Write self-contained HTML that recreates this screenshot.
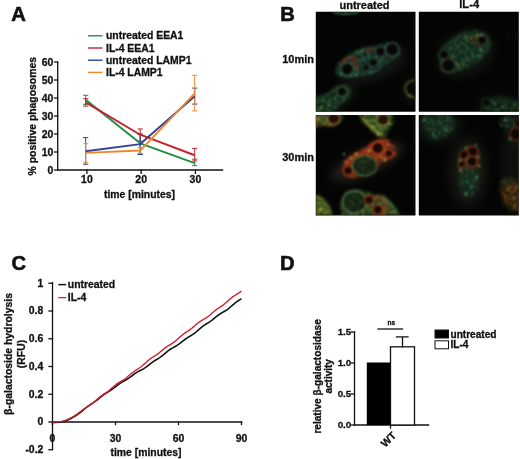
<!DOCTYPE html>
<html><head><meta charset="utf-8"><title>Figure</title>
<style>
html,body{margin:0;padding:0;background:#fff;}
body{width:520px;height:459px;overflow:hidden;}
svg{display:block;}
text{font-family:"Liberation Sans",Arial,sans-serif;font-weight:bold;fill:#111;stroke:#111;stroke-width:0.3px;}
.ax{stroke:#111;stroke-width:1.3;fill:none;stroke-linecap:square;}
.pl{font-size:20.2px;stroke-width:0.6px;}
.t10{font-size:10.4px;}
.t9{font-size:10.4px;}
.td{font-size:9.8px;}
</style></head><body>
<svg width="520" height="459" viewBox="0 0 520 459">
<rect width="520" height="459" fill="#fff"/>

<g id="panelA">
<text class="pl" x="11.2" y="21.2">A</text>
<path class="ax" d="M57.7 62.5V170H222.5"/>
<path class="ax" d="M54.5 170H57.7"/>
<text class="t10" x="53.2" y="173.6" text-anchor="end">0</text>
<path class="ax" d="M54.5 152H57.7"/>
<text class="t10" x="53.2" y="155.6" text-anchor="end">10</text>
<path class="ax" d="M54.5 134H57.7"/>
<text class="t10" x="53.2" y="137.6" text-anchor="end">20</text>
<path class="ax" d="M54.5 116H57.7"/>
<text class="t10" x="53.2" y="119.6" text-anchor="end">30</text>
<path class="ax" d="M54.5 98H57.7"/>
<text class="t10" x="53.2" y="101.6" text-anchor="end">40</text>
<path class="ax" d="M54.5 80H57.7"/>
<text class="t10" x="53.2" y="83.6" text-anchor="end">50</text>
<path class="ax" d="M54.5 62H57.7"/>
<text class="t10" x="53.2" y="65.6" text-anchor="end">60</text>
<path class="ax" d="M86.9 170V173.3"/>
<text class="t10" x="86.9" y="183" text-anchor="middle">10</text>
<path class="ax" d="M141.15 170V173.3"/>
<text class="t10" x="141.15" y="183" text-anchor="middle">20</text>
<path class="ax" d="M195.4 170V173.3"/>
<text class="t10" x="195.4" y="183" text-anchor="middle">30</text>
<text class="t10" x="139.5" y="197.8" text-anchor="middle">time [minutes]</text>
<text class="t10" transform="translate(36.2 116.2) rotate(-90)" text-anchor="middle">% positive phagosomes</text>
<path d="M85.7 95.3V104.3M83.1 95.3H88.3M83.1 104.3H88.3M140.2 134V153.8M137.6 134H142.8M137.6 153.8H142.8M194.7 159.2V165.68M192.1 159.2H197.3M192.1 165.68H197.3" stroke="#1f8f45" stroke-width="1" fill="none"/>
<path d="M85.7 98.72V106.1M83.1 98.72H88.3M83.1 106.1H88.3M140.2 128.96V141.2M137.6 128.96H142.8M137.6 141.2H142.8M194.7 148.4V161M192.1 148.4H197.3M192.1 161H197.3" stroke="#c8202f" stroke-width="1" fill="none"/>
<path d="M85.7 137.6V164.24M83.1 137.6H88.3M83.1 164.24H88.3M140.2 134.36V154.52M137.6 134.36H142.8M137.6 154.52H142.8M194.7 88.1V104.12M192.1 88.1H197.3M192.1 104.12H197.3" stroke="#34419a" stroke-width="1" fill="none"/>
<path d="M85.7 143.72V162.26M83.1 143.72H88.3M83.1 162.26H88.3M140.2 147.68V153.44M137.6 147.68H142.8M137.6 153.44H142.8M194.7 75.32V110.96M192.1 75.32H197.3M192.1 110.96H197.3" stroke="#f0872a" stroke-width="1" fill="none"/>
<polyline points="85.7,99.8 140.2,143.36 194.7,163.16" stroke="#1f8f45" stroke-width="1.9" fill="none" stroke-linejoin="round"/>
<polyline points="85.7,102.32 140.2,134.72 194.7,155.24" stroke="#c8202f" stroke-width="1.9" fill="none" stroke-linejoin="round"/>
<polyline points="85.7,151.28 140.2,144.08 194.7,96.2" stroke="#34419a" stroke-width="1.9" fill="none" stroke-linejoin="round"/>
<polyline points="85.7,152.9 140.2,150.56 194.7,93.32" stroke="#f0872a" stroke-width="1.9" fill="none" stroke-linejoin="round"/>
<path d="M88 35.8H102.5" stroke="#1f8f45" stroke-width="1.4"/>
<text class="t10" x="106" y="39.4">untreated EEA1</text>
<path d="M88 48H102.5" stroke="#c8202f" stroke-width="1.4"/>
<text class="t10" x="106" y="51.6">IL-4 EEA1</text>
<path d="M88 60.2H102.5" stroke="#34419a" stroke-width="1.4"/>
<text class="t10" x="106" y="63.8">untreated LAMP1</text>
<path d="M88 72.4H102.5" stroke="#f0872a" stroke-width="1.4"/>
<text class="t10" x="106" y="76">IL-4 LAMP1</text>
</g>
<g id="panelC">
<text class="pl" x="11.6" y="269.6">C</text>
<path class="ax" d="M52.5 282.5V449.5"/>
<path class="ax" d="M52.5 422H241.7"/>
<path class="ax" d="M49 283.25H52.5"/>
<text class="t9" x="43.3" y="286.65" text-anchor="end">1</text>
<path class="ax" d="M49 311H52.5"/>
<text class="t9" x="43.3" y="314.4" text-anchor="end">0.8</text>
<path class="ax" d="M49 338.75H52.5"/>
<text class="t9" x="43.3" y="342.15" text-anchor="end">0.6</text>
<path class="ax" d="M49 366.5H52.5"/>
<text class="t9" x="43.3" y="369.9" text-anchor="end">0.4</text>
<path class="ax" d="M49 394.25H52.5"/>
<text class="t9" x="43.3" y="397.65" text-anchor="end">0.2</text>
<path class="ax" d="M49 422H52.5"/>
<text class="t9" x="43.3" y="425.4" text-anchor="end">0</text>
<path class="ax" d="M49 449.75H52.5"/>
<text class="t9" x="43.3" y="453.15" text-anchor="end">-0.2</text>
<path class="ax" d="M52.5 422V424.5"/>
<text class="t9" x="52.5" y="441.5" text-anchor="middle">0</text>
<path class="ax" d="M115.5 422V424.5"/>
<text class="t9" x="115.5" y="441.5" text-anchor="middle">30</text>
<path class="ax" d="M178.5 422V424.5"/>
<text class="t9" x="178.5" y="441.5" text-anchor="middle">60</text>
<path class="ax" d="M241.5 422V424.5"/>
<text class="t9" x="241.5" y="441.5" text-anchor="middle">90</text>
<text class="t9" x="146" y="455.5" text-anchor="middle">time [minutes]</text>
<text class="t9" transform="translate(11.6 354) rotate(-90)" text-anchor="middle">β-galactoside hydrolysis</text>
<text class="t9" transform="translate(24.5 354) rotate(-90)" text-anchor="middle">(RFU)</text>
<polyline points="52.5,422.5 53.55,422.46 54.6,422.41 55.65,422.36 56.7,422.31 57.75,422.24 58.8,422.17 59.85,422.08 60.9,421.96 61.95,421.81 63,421.62 64.05,421.37 65.1,421.07 66.15,420.71 67.2,420.29 68.25,419.82 69.3,419.31 70.35,418.76 71.4,418.2 72.45,417.61 73.5,417 74.55,416.38 75.6,415.74 76.65,415.07 77.7,414.37 78.75,413.63 79.8,412.85 80.85,412.03 81.9,411.18 82.95,410.31 84,409.44 85.05,408.56 86.1,407.71 87.15,406.9 88.2,406.12 89.25,405.38 90.3,404.67 91.35,403.98 92.4,403.3 93.45,402.61 94.5,401.9 95.55,401.15 96.6,400.36 97.65,399.52 98.7,398.66 99.75,397.79 100.8,396.92 101.85,396.07 102.9,395.26 103.95,394.49 105,393.78 106.05,393.12 107.1,392.48 108.15,391.84 109.2,391.19 110.25,390.49 111.3,389.75 112.35,389.08 113.4,388.35 114.45,387.57 115.5,386.76 116.55,385.93 117.6,385.11 118.65,384.32 119.7,383.57 120.75,382.88 121.8,382.23 122.85,381.63 123.9,381.06 124.95,380.49 126,379.91 127.05,379.3 128.1,378.64 129.15,377.93 130.2,377.17 131.25,376.37 132.3,375.56 133.35,374.76 134.4,373.97 135.45,373.23 136.5,372.55 137.55,371.92 138.6,371.34 139.65,370.8 140.7,370.28 141.75,369.75 142.8,369.19 143.85,368.59 144.9,367.93 145.95,367.21 147,366.44 148.05,365.62 149.1,364.77 150.15,363.93 151.2,363.1 152.25,362.31 153.3,361.56 154.35,360.86 155.4,360.2 156.45,359.57 157.5,358.95 158.55,358.32 159.6,357.65 160.65,356.94 161.7,356.17 162.75,355.35 163.8,354.49 164.85,353.6 165.9,352.7 166.95,351.82 168,350.98 169.05,350.19 170.1,349.46 171.15,348.79 172.2,348.17 173.25,347.58 174.3,347 175.35,346.42 176.4,345.8 177.45,345.13 178.5,344.42 179.55,343.65 180.6,342.83 181.65,341.99 182.7,341.15 183.75,340.32 184.8,339.52 185.85,338.76 186.9,338.06 187.95,337.4 189,336.77 190.05,336.16 191.1,335.53 192.15,334.89 193.2,334.19 194.25,333.44 195.3,332.62 196.35,331.75 197.4,330.84 198.45,329.91 199.5,328.98 200.55,328.07 201.6,327.2 202.65,326.39 203.7,325.63 204.75,324.93 205.8,324.26 206.85,323.62 207.9,322.98 208.95,322.31 210,321.61 211.05,320.86 212.1,320.07 213.15,319.23 214.2,318.36 215.25,317.49 216.3,316.63 217.35,315.8 218.4,315.02 219.45,314.29 220.5,313.62 221.55,313 222.6,312.4 223.65,311.8 224.7,311.19 225.75,310.55 226.8,309.85 227.85,309.09 228.9,308.26 229.95,307.39 231,306.48 232.05,305.56 233.1,304.65 234.15,303.77 235.2,302.93 236.25,302.14 237.3,301.4 238.35,300.7 239.4,300.02 240.45,299.34 241.5,298.65" stroke="#111" stroke-width="1.6" fill="none" stroke-linejoin="round"/>
<polyline points="52.5,422 53.55,421.97 54.6,421.94 55.65,421.91 56.7,421.87 57.75,421.81 58.8,421.73 59.85,421.61 60.9,421.46 61.95,421.27 63,421.03 64.05,420.74 65.1,420.41 66.15,420.03 67.2,419.62 68.25,419.17 69.3,418.69 70.35,418.18 71.4,417.65 72.45,417.08 73.5,416.48 74.55,415.84 75.6,415.16 76.65,414.44 77.7,413.69 78.75,412.9 79.8,412.09 80.85,411.28 81.9,410.47 82.95,409.69 84,408.93 85.05,408.2 86.1,407.5 87.15,406.83 88.2,406.16 89.25,405.49 90.3,404.8 91.35,404.07 92.4,403.3 93.45,402.48 94.5,401.62 95.55,400.72 96.6,399.81 97.65,398.89 98.7,398 99.75,397.14 100.8,396.32 101.85,395.55 102.9,394.82 103.95,394.12 105,393.43 106.05,392.72 107.1,391.98 108.15,391.2 109.2,390.37 110.25,389.48 111.3,388.57 112.35,387.64 113.4,386.71 114.45,385.81 115.5,384.95 116.55,384.15 117.6,383.41 118.65,382.73 119.7,382.09 120.75,381.48 121.8,380.86 122.85,380.23 123.9,379.55 124.95,378.82 126,378.04 127.05,377.2 128.1,376.32 129.15,375.42 130.2,374.52 131.25,373.64 132.3,372.8 133.35,372 134.4,371.25 135.45,370.54 136.5,369.86 137.55,369.18 138.6,368.5 139.65,367.78 140.7,367.01 141.75,366.19 142.8,365.31 143.85,364.38 144.9,363.42 145.95,362.46 147,361.5 148.05,360.59 149.1,359.72 150.15,358.91 151.2,358.17 152.25,357.47 153.3,356.81 154.35,356.17 155.4,355.51 156.45,354.83 157.5,354.11 158.55,353.34 159.6,352.52 160.65,351.66 161.7,350.77 162.75,349.89 163.8,349.02 164.85,348.18 165.9,347.4 166.95,346.67 168,345.98 169.05,345.33 170.1,344.7 171.15,344.07 172.2,343.41 173.25,342.7 174.3,341.93 175.35,341.1 176.4,340.22 177.45,339.29 178.5,338.34 179.55,337.38 180.6,336.44 181.65,335.54 182.7,334.69 183.75,333.9 184.8,333.16 185.85,332.45 186.9,331.76 187.95,331.08 189,330.37 190.05,329.62 191.1,328.83 192.15,327.98 193.2,327.1 194.25,326.19 195.3,325.27 196.35,324.37 197.4,323.5 198.45,322.68 199.5,321.93 200.55,321.22 201.6,320.57 202.65,319.95 203.7,319.34 204.75,318.72 205.8,318.07 206.85,317.37 207.9,316.61 208.95,315.79 210,314.92 211.05,314.01 212.1,313.09 213.15,312.19 214.2,311.3 215.25,310.46 216.3,309.67 217.35,308.93 218.4,308.22 219.45,307.53 220.5,306.84 221.55,306.14 222.6,305.39 223.65,304.59 224.7,303.74 225.75,302.84 226.8,301.9 227.85,300.95 228.9,299.99 229.95,299.07 231,298.18 232.05,297.36 233.1,296.6 234.15,295.89 235.2,295.23 236.25,294.59 237.3,293.96 238.35,293.31 239.4,292.63 240.45,291.89 241.5,291.1" stroke="#d0212c" stroke-width="1.4" fill="none" stroke-linejoin="round"/>
<path d="M58.3 284.6H66.2" stroke="#111" stroke-width="1.5"/>
<text class="t9" x="67.8" y="288.2">untreated</text>
<path d="M58.3 297.6H66.2" stroke="#d0212c" stroke-width="1.3"/>
<text class="t9" x="67.8" y="301.2">IL-4</text>
</g>
<g id="panelD">
<text class="pl" x="280" y="269.5">D</text>
<path class="ax" d="M354.5 332V425H428.5"/>
<path class="ax" d="M351.5 332H354.5"/>
<text class="td" x="351.3" y="335.3" text-anchor="end">1.5</text>
<path class="ax" d="M351.5 363H354.5"/>
<text class="td" x="351.3" y="366.3" text-anchor="end">1.0</text>
<path class="ax" d="M351.5 394H354.5"/>
<text class="td" x="351.3" y="397.3" text-anchor="end">0.5</text>
<path class="ax" d="M351.5 425H354.5"/>
<text class="td" x="351.3" y="428.3" text-anchor="end">0.0</text>
<path class="ax" d="M390.5 425V428"/>
<rect x="366.8" y="362.5" width="23.7" height="62.5" fill="#000"/>
<rect x="390.5" y="346.8" width="24" height="78.2" fill="#fff" stroke="#111" stroke-width="1.3"/>
<path class="ax" d="M402.5 346.8V336.8M396.5 336.8H408"/>
<path class="ax" d="M378 329H402.5"/>
<text x="391.3" y="325" text-anchor="middle" style="font-size:6.5px">ns</text>
<text class="td" transform="translate(391 442) rotate(-45)" text-anchor="middle" style="font-size:10.5px">WT</text>
<text class="td" style="font-size:10.1px" transform="translate(321.2 376.4) rotate(-90)" text-anchor="middle">relative β-galactosidase</text>
<text class="td" style="font-size:10px" transform="translate(332.2 376.3) rotate(-90)" text-anchor="middle">activity</text>
<rect x="435" y="330" width="13.5" height="8" fill="#000" stroke="#111" stroke-width="1"/>
<rect x="435" y="340.8" width="13.5" height="8" fill="#fff" stroke="#111" stroke-width="1"/>
<text class="td" x="450.5" y="337.6" style="font-size:10.1px">untreated</text>
<text class="td" x="450.5" y="348.4" style="font-size:10.1px">IL-4</text>
</g>
<g id="panelB">
<defs>
<filter id="b05" x="-30%" y="-30%" width="160%" height="160%"><feGaussianBlur stdDeviation="0.55"/></filter>
<filter id="b1" x="-30%" y="-30%" width="160%" height="160%"><feGaussianBlur stdDeviation="1.1"/></filter>
<filter id="b2" x="-40%" y="-40%" width="180%" height="180%"><feGaussianBlur stdDeviation="2"/></filter>
<filter id="b4" x="-50%" y="-50%" width="200%" height="200%"><feGaussianBlur stdDeviation="4.5"/></filter>
<filter id="spk" x="-10%" y="-10%" width="120%" height="120%">
<feTurbulence type="fractalNoise" baseFrequency="0.36" numOctaves="2" seed="7" result="n"/>
<feColorMatrix in="n" type="matrix" values="0 0 0 0 0  0 0 0 0 0  0 0 0 0 0  3.6 0 0 0 -1.7" result="a"/>
<feGaussianBlur in="SourceGraphic" stdDeviation="1.1" result="s"/>
<feComposite in="s" in2="a" operator="in"/>
</filter>
<filter id="fin" x="-5%" y="-5%" width="110%" height="110%" color-interpolation-filters="sRGB">
<feGaussianBlur stdDeviation="0.8"/>
<feColorMatrix type="matrix" values="0.55 0 0 0 0  0 0.52 0 0 0  0 0 0.5 0 0  0 0 0 1 0"/>
</filter>
<filter id="fin3" x="-5%" y="-5%" width="110%" height="110%" color-interpolation-filters="sRGB">
<feGaussianBlur stdDeviation="0.8"/>
<feColorMatrix type="matrix" values="0.74 0 0 0 0  0 0.66 0 0 0  0 0 0.6 0 0  0 0 0 1 0"/>
</filter>
<clipPath id="c1"><rect x="0.8" y="-0.2" width="99.7" height="99.9"/></clipPath>
<clipPath id="c2"><rect x="-0.2" y="-0.2" width="100" height="99.9"/></clipPath>
<clipPath id="c3"><rect x="0.8" y="1.1" width="99.7" height="100.3"/></clipPath>
<clipPath id="c4"><rect x="-0.2" y="1.1" width="100" height="100.3"/></clipPath>
<path id="m1" d="M21.8 60L24 52.3L32.7 44.7L41.4 39.2L52.3 36L63.2 34.9L71.9 32.2L79.5 31.6L83.9 36L83.9 41.4L76.3 46.8L69.7 51.2L63.2 57.7L52.3 62L41.4 63.2L32.7 64.3L25 63.2Z"/>
<path id="m1b" d="M0 87L13 82.8L22.9 75.2L30.5 74L34.9 78.4L32.7 85L24 91.5L17.4 100H0Z"/>
<path id="m2" d="M20.7 43.6L24 36L32.7 28.3L43.6 21.8L56.6 19.6L67.5 22.9L70.8 30.5L66.4 41.4L58.8 49L47.9 54.5L39.2 57.7L30.5 61L22.9 57.7L21.8 50Z"/>
<path id="m2b" d="M62 100L64 90L72 85.5L84 85L96 88L101.3 92V100Z"/>
<path id="m3a" d="M0 0H27.5L25.3 6.6L17.6 11L6.6 10L0 13.2Z"/>
<path id="m3b" d="M45.2 0H77V8.8L72.7 15.4L68.3 23L62.8 21L55 13.2L47.4 5.5Z"/>
<path id="m3c" d="M29.7 60.6L28.6 52.9L33 44L44 38.5L55 32L63.9 27.5L72.7 26.4L79.3 33L80.4 39.6L72.7 45.2L63.9 47.4L60.6 55L52.9 60.6L41.9 61.7L33 61.7Z"/>
<path id="m3d" d="M27.5 101L26.4 88L30.8 79.3L39.6 76L50.7 78.2L59.5 82.6L66 81.5L72.7 88L79.3 94.7L83.7 101Z"/>
<path id="m3e" d="M0 81.5L6.6 84.8L13.2 92.5L16.5 101H0Z"/>
<path id="m4a" d="M4.4 0H33L36.3 8.8L33 17.6L24.2 23L15.4 26.4L8.8 19.8L3.3 11Z"/>
<path id="m4c" d="M41.9 35.2L50.7 30.8L59.5 35.2L62.8 48.5L61.7 63.9L57.3 77L49.6 84.8L43 79.3L38.5 66L38.5 50.7Z"/>
<path id="m4d" d="M83.7 0H101.3V31L94 30L88 22L85 10Z"/>
<path id="m4e" d="M81.5 70L88 64L96 66L101.3 72V97L92 96L84 88Z"/>
</defs>
<text class="pl" x="280.3" y="20.9">B</text>
<text class="t10" x="364.5" y="8.6" text-anchor="middle" style="font-size:11px">untreated</text>
<text class="t10" x="469.2" y="8.4" text-anchor="middle" style="font-size:11.2px">IL-4</text>
<text class="t10" x="314" y="62.5" text-anchor="end" style="font-size:11px">10min</text>
<text class="t10" x="314" y="161" text-anchor="end" style="font-size:11px">30min</text>

<!-- image 1 : untreated 10min -->
<g transform="translate(315 12)" clip-path="url(#c1)">
<rect x="-2" y="-2" width="106" height="106" fill="#030403"/>
<g filter="url(#fin)">
<g filter="url(#b4)" opacity="0.4">
<ellipse cx="58" cy="54" rx="36" ry="15" transform="rotate(-18 58 54)" fill="#4a5450"/>
<ellipse cx="22" cy="88" rx="22" ry="10" transform="rotate(-38 22 88)" fill="#4a5450"/>
<ellipse cx="98" cy="78" rx="9" ry="12" fill="#4a5450"/>
</g>
<g filter="url(#b2)" opacity="0.6">
<use href="#m1" fill="#27584a"/>
<use href="#m1b" fill="#27583c"/>
</g>
<g filter="url(#spk)">
<use href="#m1" fill="#5fd8a0" stroke="#5fd8a0" stroke-width="2"/>
<use href="#m1b" fill="#62d880" stroke="#62d880" stroke-width="2"/>
<ellipse cx="32" cy="0" rx="12" ry="3" fill="#4fc07c"/>
</g>
<g filter="url(#b1)" fill="none" stroke-linejoin="round">
<use href="#m1" stroke="#3f9a72" stroke-width="1.4" opacity="0.8"/>
<use href="#m1b" stroke="#45a060" stroke-width="1.4" opacity="0.8"/>
<path d="M26 52Q30 46 39 45.5Q42 51 40.5 57" stroke="#d05a2a" stroke-width="2.6"/>
<path d="M51 38.5Q55 36 59 38.5" stroke="#c0502c" stroke-width="2.2"/>
</g>
<g filter="url(#b05)">
<circle cx="32.2" cy="57" r="6.3" fill="#0a0c0a" stroke="#55a884" stroke-width="1.5"/>
<circle cx="65.4" cy="39.7" r="5" fill="#0d0e0c" stroke="#5a9484" stroke-width="1.3"/>
<circle cx="77.3" cy="37.5" r="6.6" fill="#080a09" stroke="#6a8e88" stroke-width="1.3"/>
<circle cx="58.4" cy="50.5" r="4" fill="#0b100d" stroke="#468c70" stroke-width="1.1"/>
<circle cx="51" cy="55.5" r="3.4" fill="#0b100d" stroke="#468c70" stroke-width="1"/>
<circle cx="27" cy="79.5" r="5" fill="#0a0c0a" stroke="#55a874" stroke-width="1.4"/>
<path d="M99.8 68Q89 70 90.5 78Q92 86 99.8 85" fill="#0b0d0a" stroke="#9aa850" stroke-width="1.6"/>
<path d="M18 0Q30 4 44 0" fill="none" stroke="#55b87c" stroke-width="1.6"/>
<circle cx="47" cy="39" r="1.6" fill="#7af0a0"/>
<circle cx="43" cy="41.5" r="1.2" fill="#70e898"/>
<circle cx="41" cy="62.5" r="1.5" fill="#7af0a0"/>
<circle cx="26" cy="62" r="1.3" fill="#68dc90"/>
<circle cx="36" cy="64" r="1.2" fill="#68dc90"/>
<circle cx="56" cy="60.5" r="1.2" fill="#68dc90"/>
<circle cx="14" cy="93" r="1.5" fill="#7af0a0"/>
<circle cx="8" cy="88" r="1.3" fill="#68dc90"/>
<circle cx="20" cy="86" r="1.2" fill="#68dc90"/>
<circle cx="5" cy="96" r="1.3" fill="#a0e070"/>
<circle cx="95" cy="83" r="1.2" fill="#c8d858"/>
</g>
</g>
</g>

<!-- image 2 : IL-4 10min -->
<g transform="translate(419 12)" clip-path="url(#c2)">
<rect x="-2" y="-2" width="106" height="106" fill="#030403"/>
<g filter="url(#fin)">
<g filter="url(#b4)" opacity="0.4">
<ellipse cx="47" cy="42" rx="30" ry="23" transform="rotate(-25 47 42)" fill="#3f4a43"/>
<ellipse cx="82" cy="95" rx="24" ry="12" fill="#3f4a43"/>
</g>
<g filter="url(#b2)" opacity="0.7">
<use href="#m2" fill="#23543a"/>
<use href="#m2b" fill="#1a4028"/>
</g>
<g filter="url(#spk)">
<use href="#m2" fill="#5cd07c" stroke="#5cd07c" stroke-width="2"/>
<use href="#m2b" fill="#4cb468"/>
</g>
<g filter="url(#b1)" fill="none" stroke-linejoin="round">
<use href="#m2" stroke="#3c8a58" stroke-width="1.3" opacity="0.7"/>
<path d="M50 27Q55 31 60 33" stroke="#8a4a2a" stroke-width="2"/>
</g>
<g filter="url(#b05)">
<circle cx="25" cy="42.5" r="4.6" fill="#080a08" stroke="#6a7a52" stroke-width="1.2"/>
<circle cx="29.4" cy="53.4" r="6.6" fill="#070907" stroke="#6a6a4e" stroke-width="1.3"/>
<circle cx="63.2" cy="28.3" r="4.6" fill="#080a08" stroke="#7a7a52" stroke-width="1.2"/>
<circle cx="67.5" cy="90.4" r="4" fill="#080a08" stroke="#3a6a46" stroke-width="1"/>
<circle cx="93.7" cy="24" r="5" fill="none" stroke="#1c2a20" stroke-width="1.2"/>
<circle cx="52" cy="26" r="1.4" fill="#e0a840"/>
<circle cx="57.7" cy="24" r="1.4" fill="#e8b048"/>
<circle cx="62" cy="38" r="1.6" fill="#7af0a0"/>
<circle cx="47" cy="25" r="1.5" fill="#7af0a0"/>
<circle cx="39" cy="53" r="1.4" fill="#7af0a0"/>
<circle cx="59" cy="44" r="1.2" fill="#68dc90"/>
<circle cx="33" cy="44" r="1.2" fill="#68dc90"/>
<circle cx="44" cy="52" r="1.2" fill="#c8c050"/>
<circle cx="63" cy="23" r="1.2" fill="#e0f0e0"/>
<circle cx="84" cy="95" r="1.2" fill="#68dc90"/>
<circle cx="76" cy="92" r="1.1" fill="#68dc90"/>
</g>
</g>
</g>

<!-- image 3 : untreated 30min -->
<g transform="translate(315 114)" clip-path="url(#c3)">
<rect x="-2" y="-2" width="106" height="106" fill="#030403"/>
<g filter="url(#fin3)">
<g filter="url(#b4)" opacity="0.45">
<ellipse cx="52" cy="48" rx="40" ry="13" transform="rotate(-24 52 48)" fill="#5a5650"/>
</g>
<g filter="url(#b2)" opacity="0.9">
<use href="#m3a" fill="#4a7a38"/>
<use href="#m3b" fill="#426e38"/>
<use href="#m3c" fill="#8a3c20"/>
<use href="#m3d" fill="#3e5e34"/>
<use href="#m3e" fill="#568a3a"/>
</g>
<g filter="url(#spk)">
<use href="#m3a" fill="#b0e060" stroke="#b0e060" stroke-width="2"/>
<use href="#m3b" fill="#98e068" stroke="#98e068" stroke-width="2"/>
<use href="#m3c" fill="#f08030" stroke="#f08030" stroke-width="2"/>
<use href="#m3d" fill="#90c860" stroke="#90c860" stroke-width="2"/>
<use href="#m3e" fill="#c0e058"/>
</g>
<g filter="url(#b1)" fill="none" stroke-linejoin="round">
<path d="M30 52Q35 43 46 39.5Q54 35 58 29.5Q66 25 73 28" stroke="#e84c2a" stroke-width="3"/>
<path d="M56 40Q62 44 69 42Q76 46 80 39" stroke="#d84828" stroke-width="2.2"/>
<path d="M30 58Q34 64 42 62" stroke="#d05028" stroke-width="2"/>
<path d="M47 4Q56 14 67 22" stroke="#c8e858" stroke-width="2.2"/>
<path d="M6 10L18 11L25 6.5" stroke="#d8a040" stroke-width="1.6"/>
<path d="M0 3V12" stroke="#d83a2a" stroke-width="3"/>
<path d="M56 84Q64 80 70 88Q74 96 66 101" stroke="#c0682a" stroke-width="2.2"/>
<path d="M67 82Q78 90 83 101" stroke="#68c878" stroke-width="1.8"/>
<path d="M0 82L7 85L13 92.5L16.5 101" stroke="#b0d858" stroke-width="1.5"/>
</g>
<g filter="url(#b05)">
<circle cx="18.7" cy="4.4" r="6" fill="#2e1608" stroke="#d0a848" stroke-width="1.3"/>
<circle cx="68" cy="5.5" r="6" fill="#2e1c0a" stroke="#b0c050" stroke-width="1.3"/>
<circle cx="62.8" cy="34" r="6" fill="#220e08" stroke="#f06030" stroke-width="1.7"/>
<circle cx="73.8" cy="39.6" r="4" fill="#220e08" stroke="#e0502c" stroke-width="1.5"/>
<ellipse cx="49.5" cy="51.8" rx="12" ry="10" fill="#1e2e1a" stroke="#58a460" stroke-width="1.3"/>
<circle cx="33" cy="56.8" r="4.5" fill="#1a0c06" stroke="#d8582c" stroke-width="1.5"/>
<ellipse cx="39.6" cy="88" rx="12" ry="11" fill="#1a2e1e" stroke="#6aba78" stroke-width="1.4"/>
<circle cx="54" cy="86" r="4.5" fill="#260e08" stroke="#b8602c" stroke-width="1.4"/>
<circle cx="62.8" cy="95.8" r="5" fill="#260e08" stroke="#c8682c" stroke-width="1.5"/>
<circle cx="41" cy="40" r="1.5" fill="#f8e058"/>
<circle cx="36" cy="44" r="1.4" fill="#b0f068"/>
<circle cx="29" cy="40" r="1.2" fill="#68e078"/>
<circle cx="54" cy="37" r="1.4" fill="#fff060"/>
<circle cx="70" cy="46" r="1.4" fill="#f8f078"/>
<circle cx="66" cy="43" r="1.2" fill="#ffd858"/>
<circle cx="73" cy="30" r="1.3" fill="#ffa048"/>
<circle cx="31" cy="48" r="1.3" fill="#ffc050"/>
<circle cx="63" cy="20" r="1.4" fill="#f0ff78"/>
<circle cx="58" cy="13" r="1.3" fill="#e0ff78"/>
<circle cx="3" cy="5" r="1.4" fill="#c0ff68"/>
<circle cx="74" cy="10" r="1.2" fill="#b0f068"/>
<circle cx="5" cy="95" r="1.4" fill="#e0f860"/>
<circle cx="10" cy="99" r="1.2" fill="#f0e058"/>
</g>
<g filter="url(#spk)" opacity="0.55">
<ellipse cx="49.5" cy="51.8" rx="10" ry="8.5" fill="#6aa860"/>
<ellipse cx="39.6" cy="88" rx="10" ry="9.5" fill="#5aa868"/>
</g>
</g>
</g>

<!-- image 4 : IL-4 30min -->
<g transform="translate(419 114)" clip-path="url(#c4)">
<rect x="-2" y="-2" width="106" height="106" fill="#030403"/>
<g filter="url(#fin)">
<g filter="url(#b4)" opacity="0.42">
<ellipse cx="49" cy="58" rx="20" ry="36" fill="#4a4d48"/>
<ellipse cx="19" cy="12" rx="24" ry="18" fill="#3a4a40"/>
<ellipse cx="95" cy="50" rx="12" ry="50" fill="#3a403a"/>
</g>
<g filter="url(#b2)" opacity="0.8">
<use href="#m4a" fill="#224e34"/>
<use href="#m4c" fill="#2a3e30"/>
<ellipse cx="49.6" cy="66" rx="8" ry="12" fill="#1e4a30"/>
<use href="#m4d" fill="#243a28"/>
<use href="#m4e" fill="#5a4018"/>
</g>
<g filter="url(#spk)">
<use href="#m4a" fill="#58c078"/>
<ellipse cx="49.6" cy="67" rx="10" ry="16" fill="#58c078"/>
<use href="#m4e" fill="#f0a040"/>
<ellipse cx="89" cy="8" rx="9" ry="7" fill="#58c078"/>
<ellipse cx="88" cy="67" rx="7" ry="5" fill="#48a060"/>
</g>
<g filter="url(#b1)" fill="none" stroke-linejoin="round">
<path d="M40 46Q42 36 50 32Q58 32 60 40Q61 50 56 54Q48 57 42 54Z" stroke="#a8502a" stroke-width="1.6" opacity="0.8"/>
</g>
<g filter="url(#b05)">
<circle cx="54" cy="37.4" r="5" fill="#1a0c06" stroke="#c8502a" stroke-width="1.5"/>
<circle cx="45" cy="40.7" r="4" fill="#1a0c06" stroke="#b8522a" stroke-width="1.3"/>
<circle cx="52.9" cy="47.4" r="5.2" fill="#140a06" stroke="#d8682c" stroke-width="1.6"/>
<circle cx="43" cy="50" r="3.5" fill="#1a0c06" stroke="#c8782c" stroke-width="1.3"/>
<circle cx="97" cy="20" r="6" fill="#180a06" stroke="#b84028" stroke-width="1.5"/>
<circle cx="100" cy="9" r="4" fill="#180a06" stroke="#9a4028" stroke-width="1.2"/>
<circle cx="41" cy="46" r="1.3" fill="#fff068"/>
<circle cx="48" cy="45" r="1.3" fill="#ffd050"/>
<circle cx="59" cy="43" r="1.3" fill="#e0ff78"/>
<circle cx="60" cy="52" r="1.3" fill="#f0ff88"/>
<circle cx="47" cy="34" r="1.2" fill="#e0f070"/>
<circle cx="57" cy="31" r="1.2" fill="#68b0d0"/>
<circle cx="41" cy="56" r="1.3" fill="#d0f868"/>
<circle cx="58" cy="63" r="1.4" fill="#7af0a0"/>
<circle cx="47" cy="80" r="1.7" fill="#7af0a0"/>
<circle cx="52" cy="73" r="1.2" fill="#68dc90"/>
<circle cx="27" cy="16" r="1.4" fill="#7af0a0"/>
<circle cx="5" cy="6" r="1.4" fill="#98f8b0"/>
<circle cx="14" cy="20" r="1.2" fill="#68dc90"/>
<circle cx="86" cy="6" r="1.4" fill="#98f8b0"/>
<circle cx="91" cy="25" r="1.3" fill="#b0f890"/>
<circle cx="95" cy="84" r="1.4" fill="#ffc050"/>
<circle cx="89" cy="76" r="1.3" fill="#ffb048"/>
<circle cx="97" cy="73" r="1.2" fill="#f8d058"/>
</g>
</g>
</g>
</g>

</svg></body></html>
